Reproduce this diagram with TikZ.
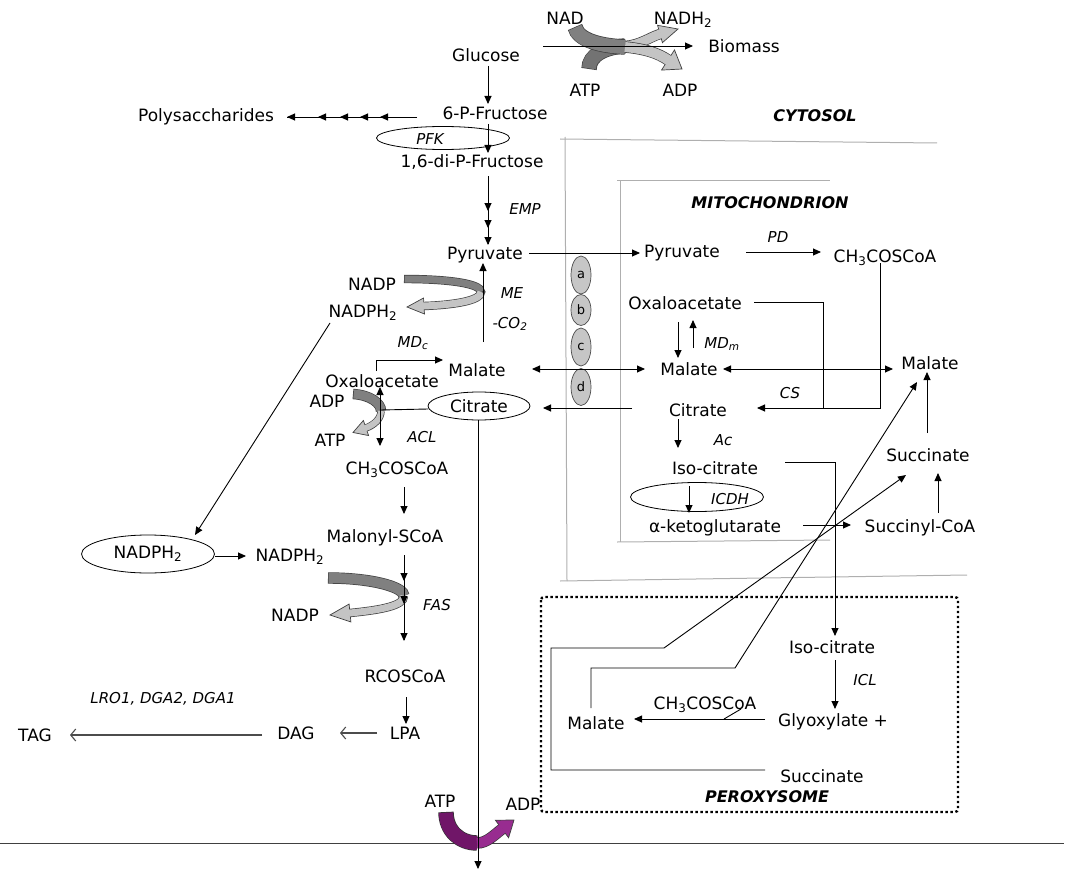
\documentclass[tikz,border=0pt]{standalone}
\usepackage{fontspec}
\setmainfont{DejaVu Sans}
\usetikzlibrary{arrows.meta,calc,shapes.geometric}
\definecolor{bandD}{RGB}{128,128,128}
\definecolor{bandL}{RGB}{196,196,196}
\definecolor{purD}{RGB}{112,22,104}
\definecolor{purL}{RGB}{152,44,144}
\definecolor{memb}{RGB}{175,175,175}
\newcommand\fsn{\fontsize{17}{20}\selectfont}
\newcommand\fsi{\fontsize{15}{18}\selectfont\itshape}
\newcommand\fsb{\fontsize{16}{19}\selectfont\bfseries\itshape}
\newcommand\sbs[1]{\textsubscript{#1}}
\newcommand\bhead[4]{\filldraw[fill=#4, draw=black!75, line width=0.7pt] (#2) -- ($(#1)!#3!90:(#2)$) -- ($(#1)!#3!-90:(#2)$) -- cycle;}
\begin{document}
\begin{tikzpicture}[x=1pt,y=-1pt,
  tx/.style={font=\fsn, inner sep=1pt, text height=13pt, text depth=4pt},
  lbl/.style={font=\fsi, inner sep=1pt},
  ttl/.style={font=\fsb, inner sep=1pt},
  ovl/.style={draw, ellipse, line width=0.8pt, inner sep=0pt, font=\fsn},
  chan/.style={draw=black!70, ellipse, fill=gray!45, line width=0.7pt, inner sep=0pt, minimum width=20pt, font=\fontsize{13}{15}\selectfont},
  ar/.style={line width=0.9pt, -{Triangle[length=8pt,width=7pt]}},
  dar/.style={line width=0.9pt, {Triangle[length=8pt,width=7pt]}-{Triangle[length=8pt,width=7pt]}},
  oar/.style={line width=1.1pt, black!70, -{Straight Barb[length=5pt,width=12pt]}},
  ln/.style={line width=0.9pt},
  mb/.style={memb, line width=1pt}]
\useasboundingbox (0,0) rectangle (1076,872);

% membranes
\draw[mb] (560,139) -- (937,143);
\draw[mb] (565,137) -- (567,581);
\draw[mb] (560,581) -- (967,575);
\draw[mb] (617,180) -- (830,180);
\draw[mb] (620,180) -- (620,542);
\draw[mb] (617,542) -- (830,540);
\draw[line width=2.4pt, dash pattern=on 2.4pt off 2.6pt, rounded corners=3pt] (541,597) rectangle (958,812);
\draw[line width=1pt, black!75] (0,843) -- (1064,843);

% ---- block arrows ----
% ATP -> NADH2 (top)
\draw[line width=15.4pt, black!75] (589,69) .. controls (589,55) and (605,47) .. (625,46);
\draw[line width=10.4pt, black!75] (625,46) .. controls (640,45) and (650,37) .. (660,34);
\bhead{660,34}{678,29}{9pt}{bandL}
\draw[line width=14pt, bandD!90!black, shorten <=0.7pt] (589,69) .. controls (589,55) and (605,47) .. (625,46);
\draw[line width=9pt, bandL] (625,46) .. controls (640,45) and (650,37) .. (661,33.7);
% NAD -> ADP (top)
\draw[line width=15.4pt, black!75] (575,27) .. controls (578,40) and (600,46) .. (625,47);
\draw[line width=11.4pt, black!75] (625,47) .. controls (645,49) and (658,53) .. (668,60);
\bhead{668,60}{682,69}{12pt}{bandL}
\draw[line width=14pt, bandD, shorten <=0.7pt] (575,27) .. controls (578,40) and (600,46) .. (625,47);
\draw[line width=10pt, bandL] (625,47) .. controls (645,49) and (658,53) .. (669,60.6);
% NADP -> NADPH2
\draw[line width=8.4pt, black!75] (404,279) .. controls (445,279) and (481,283) .. (481,292) .. controls (481,301) and (452,305) .. (424,306);
\bhead{424,306}{407,307}{8pt}{bandL}
\draw[line width=7pt, bandD, shorten <=0.7pt] (404,279) .. controls (445,279) and (481,283) .. (481,292);
\draw[line width=7pt, bandL] (481,292) .. controls (481,301) and (452,305) .. (423,306);
% ADP -> ATP
\draw[line width=10.4pt, black!75] (353,394) .. controls (370,395) and (381,403) .. (381,411);
\draw[line width=7.4pt, black!75] (381,411) .. controls (381,419) and (374,425) .. (366,428);
\bhead{366,428}{353,432.5}{8pt}{bandL}
\draw[line width=9pt, bandD, shorten <=0.7pt] (353,394) .. controls (370,395) and (381,403) .. (381,411);
\draw[line width=6pt, bandL] (381,411) .. controls (381,419) and (374,425) .. (365,428.3);
% NADPH2 -> NADP (FAS)
\draw[line width=11.4pt, black!75] (328,578) .. controls (372,578) and (404,587) .. (404,596);
\draw[line width=8.4pt, black!75] (404,596) .. controls (404,606) and (380,610) .. (350,613);
\bhead{350,613}{330,615}{9pt}{bandL}
\draw[line width=10pt, bandD, shorten <=0.7pt] (328,578) .. controls (372,578) and (404,587) .. (404,596);
\draw[line width=7pt, bandL] (404,596) .. controls (404,606) and (380,610) .. (349,613.1);
% purple ATP -> ADP
\draw[line width=15.4pt, black!80] (446,812) .. controls (446,831) and (460,843) .. (477,843);
\draw[line width=11.4pt, black!80] (477,843) .. controls (487,843) and (494,835) .. (502,829);
\bhead{502,829}{514,820}{11pt}{purL}
\draw[line width=14pt, purD, shorten <=0.7pt] (446,812) .. controls (446,831) and (460,843) .. (477,843);
\draw[line width=10pt, purL] (477,843) .. controls (487,843) and (494,835) .. (502.8,828.4);

% ---- nodes ----
\node[tx] (nad) at (565,20) {NAD};
\node[tx] (nadh) at (683,20) {NADH\sbs{2}};
\node[tx] (bio) at (744,48) {Biomass};
\node[tx] (atp0) at (585,92) {ATP};
\node[tx] (adp0) at (680,92) {ADP};
\node[tx] (glu) at (486,57) {Glucose};
\node[tx] (f6p) at (495,115) {6-P-Fructose};
\node[tx] (poly) at (206,117) {Polysaccharides};
\node[ovl, minimum width=133pt, minimum height=23pt] (pfk) at (443,138) {};
\node[lbl] (pfkl) at (430,139) {PFK};
\node[tx] (f16) at (472,163) {1,6-di-P-Fructose};
\node[lbl] (emp) at (525,209) {EMP};
\node[tx] (pyrc) at (485,255) {Pyruvate};
\node[lbl] (me) at (512,293) {ME};
\node[lbl] (co2) at (510,324) {-CO\sbs{2}};
\node[tx] (nadp1) at (372,286) {NADP};
\node[tx] (nadph1) at (363,313) {NADPH\sbs{2}};
\node[lbl] (mdc) at (413,343) {MD\sbs{c}};
\node[tx] (malc) at (477,372) {Malate};
\node[tx] (oaac) at (382,383) {Oxaloacetate};
\node[ovl, minimum width=102pt, minimum height=28pt] (citc) at (479,406) {Citrate};
\node[tx] (adp1) at (327,403) {ADP};
\node[tx] (atp1) at (330,442) {ATP};
\node[lbl] (acl) at (422,437) {ACL};
\node[tx] (accc) at (397,470) {CH\sbs{3}COSCoA};
\node[tx] (mal) at (385,538) {Malonyl-SCoA};
\node[ovl, minimum width=133pt, minimum height=38pt] (nadphe) at (148,554) {NADPH\sbs{2}};
\node[tx] (nadph2) at (290,557) {NADPH\sbs{2}};
\node[tx] (nadp2) at (295,617) {NADP};
\node[lbl] (fas) at (437,605) {FAS};
\node[tx] (rco) at (405,678) {RCOSCoA};
\node[tx] (lpa) at (405,735) {LPA};
\node[tx] (dag) at (296,735) {DAG};
\node[tx] (tag) at (35,737) {TAG};
\node[lbl] (lro) at (163,699) {LRO1, DGA2, DGA1};
\node[tx] (atp2) at (440,803) {ATP};
\node[tx] (adp2) at (523,806) {ADP};

\node[ttl] (cyt) at (815,116) {CYTOSOL};
\node[ttl] (mito) at (770,203) {MITOCHONDRION};
\node[ttl] (perox) at (767,797) {PEROXYSOME};

\node[tx] (pyrm) at (682,253) {Pyruvate};
\node[lbl] (pd) at (778,237) {PD};
\node[tx] (accm) at (885,258) {CH\sbs{3}COSCoA};
\node[tx] (oaam) at (685,305) {Oxaloacetate};
\node[lbl] (mdm) at (722,344) {MD\sbs{m}};
\node[tx] (malm) at (689,371) {Malate};
\node[tx] (malr) at (930,365) {Malate};
\node[lbl] (cs) at (790,393) {CS};
\node[tx] (citm) at (698,412) {Citrate};
\node[lbl] (ac) at (723,440) {Ac};
\node[tx] (isom) at (715,470) {Iso-citrate};
\node[ovl, minimum width=133pt, minimum height=29pt] (icdh) at (697,497) {};
\node[lbl] (icdhl) at (730,499) {ICDH};
\node[tx] (akg) at (715,528) {α-ketoglutarate};
\node[tx] (sucoa) at (920,528) {Succinyl-CoA};
\node[tx] (sucm) at (928,457) {Succinate};

\node[tx] (isop) at (832,649) {Iso-citrate};
\node[lbl] (icl) at (865,680) {ICL};
\node[tx] (glyox) at (833,722) {Glyoxylate +};
\node[tx] (accp) at (705,705) {CH\sbs{3}COSCoA};
\node[tx] (malp) at (596,725) {Malate};
\node[tx] (sucp) at (822,778) {Succinate};

\node[chan, minimum height=38pt] (ea) at (581,275) {a};
\node[chan, minimum height=31pt] (eb) at (581,310) {b};
\node[chan, minimum height=38pt] (ec) at (581,347) {c};
\node[chan, minimum height=37pt] (ed) at (581,387) {d};

% ---- connectors ----
\draw[ar] (543,46) -- (693,46);
\draw[ar] (488,66) -- (488,104);
\draw[ln] (417,117) -- (287,117);
\foreach \x in {287,318,340,360,380} \draw[ar] (\x+9,117) -- (\x,117);
\draw[ar] (488,124) -- (488,153);
\draw[ln] (488,176) -- (488,244);
\foreach \y in {211,228,245} \draw[ar] (488,\y-9) -- (488,\y);
\draw[ar] (483,342) -- (483,263);
\draw[ar] (529,253) -- (640,253);
\draw[ar] (746,252) -- (821,252);
\draw[ar] (880,263) -- (880,408) -- (757,408);
\draw[ln] (754,302) -- (823,302) -- (823,408);
\draw[ar] (678,322) -- (678,358);
\draw[ar] (693,348) -- (693,320);
\draw[dar] (723,369) -- (893,369);
\draw[dar] (532,369) -- (645,369);
\draw[ar] (632,408) -- (543,408);
\draw[ar] (678,419) -- (678,448);
\draw[ar] (785,462) -- (835,462) -- (835,636);
\draw[ar] (689,486) -- (689,513);
\draw[ar] (803,525) -- (851,525);
\draw[ar] (938,513) -- (938,473);
\draw[ar] (927,433) -- (927,372);
\draw[ar] (591,708) -- (591,668) -- (735,668) -- (917,382);
\draw[ar] (765,770) -- (551,770) -- (551,648) -- (664,648) -- (906,475);
\draw[ar] (835,660) -- (835,709);
\draw[ar] (765,719) -- (634,719);
\draw[ln] (724,719) -- (741,709);
\draw[ar] (376,371) -- (376,360) -- (443,360);
\draw[ln] (428,409) -- (380,410);
\draw[ar] (380,410) -- (380,387);
\draw[ar] (380,410) -- (380,446);
\draw[ar] (478,420) -- (478,869);
\draw[ar] (330,323) -- (195,535);
\draw[ar] (215,556) -- (246,556);
\draw[ar] (404,487) -- (404,514);
\draw[ln] (404,555) -- (404,640);
\foreach \y in {581,604,641} \draw[ar] (404,\y-9) -- (404,\y);
\draw[ar] (406,697) -- (406,724);
\draw[oar] (377,733) -- (340,733);
\draw[oar] (262,735) -- (70,735);
\end{tikzpicture}
\end{document}
